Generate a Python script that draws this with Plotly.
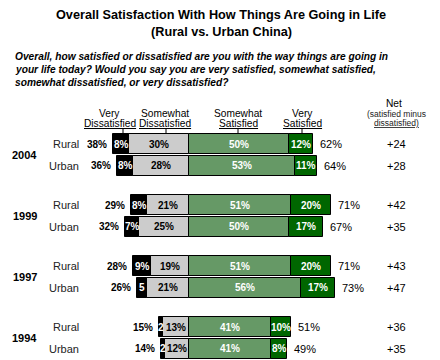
import plotly.graph_objects as go

years = ["2004", "1999", "1997", "1994"]
groups = ["Rural", "Urban"]
very_dis = [[8, 8], [8, 7], [9, 5], [2, 2]]
some_dis = [[30, 28], [21, 25], [19, 21], [13, 12]]
total_dis = [[38, 36], [29, 32], [28, 26], [15, 14]]
some_sat = [[50, 53], [51, 50], [51, 56], [41, 41]]
very_sat = [[12, 11], [20, 17], [20, 17], [10, 8]]
total_sat = [[62, 64], [71, 67], [71, 73], [51, 49]]
net = [["+24", "+28"], ["+42", "+35"], ["+43", "+47"], ["+36", "+35"]]
vd_labels = [["8%", "8%"], ["8%", "7%"], ["9%", "5"], ["2", "2"]]

W, H = 440, 360
OFF = 8  # default page body margin in the browser
X0, SCALE = 189, 2.0  # pixel of zero, pixels per percent
FONT = "Liberation Sans, Arial, sans-serif"

C_VD = "#000000"
C_SD = "#cccccc"
C_SS = "#669966"
C_VS = "#006600"


def px2v(px):
    return (px - X0) / SCALE


rows = []
ys, vd, sd, ss, vs = [], [], [], [], []
for g in range(len(years)):
    for r in range(2):
        y = 144 + 61 * g + 21.5 * r
        rows.append((g, r, y))
        ys.append(y)
        vd.append(very_dis[g][r]); sd.append(some_dis[g][r])
        ss.append(some_sat[g][r]); vs.append(very_sat[g][r])

fig = go.Figure()
common = dict(orientation="h", width=20, marker_line_color="black", marker_line_width=1,
              hoverinfo="skip", showlegend=False)
fig.add_trace(go.Bar(y=ys, x=[-v for v in sd], marker_color=C_SD, **common))
fig.add_trace(go.Bar(y=ys, x=[-v for v in vd], marker_color=C_VD, **common))
fig.add_trace(go.Bar(y=ys, x=ss, marker_color=C_SS, **common))
fig.add_trace(go.Bar(y=ys, x=vs, marker_color=C_VS, **common))

ann = []


def add(text, x, y, size=10, color="black", xanchor="center", bold=False, italic=False):
    if italic:
        text = "<i>" + text + "</i>"
    if bold:
        text = "<b>" + text + "</b>"
    ann.append(dict(text=text, x=x, y=y, xref="x", yref="y", showarrow=False,
                    font=dict(family=FONT, size=size, color=color),
                    xanchor=xanchor, yanchor="middle", align="center"))


for g, r, y in rows:
    vdv, sdv, ssv, vsv = very_dis[g][r], some_dis[g][r], some_sat[g][r], very_sat[g][r]
    add(vd_labels[g][r], -(sdv + vdv / 2), y, 10, "white", bold=True)
    add(f"{sdv}%", -sdv / 2, y, 10, "black", bold=True)
    add(f"{ssv}%", ssv / 2, y, 10, "white", bold=True)
    add(f"{vsv}%", ssv + vsv / 2, y, 10, "white", bold=True)
    add(f"{total_dis[g][r]}%", -(sdv + vdv) - 2, y, 10, "black", xanchor="right", bold=True)
    add(f"{total_sat[g][r]}%", ssv + vsv + 2.5, y, 11, "black", xanchor="left")
    add(net[g][r], px2v(396), y, 11, "black")
    add(groups[r], px2v(81), y, 11, "#222222", xanchor="right")
    if r == 0:
        add(years[g], px2v(24.5), y + 10.75, 11, "black", bold=True)

# titles
add("Overall Satisfaction With How Things Are Going in Life", px2v(221), 15, 12.7, bold=True)
add("(Rural vs. Urban China)", px2v(221), 31.5, 12.7, bold=True)
q_lines = ["Overall, how satisfied or dissatisfied are you with the way things are going in",
           "your life today? Would you say you are very satisfied, somewhat satisfied,",
           "somewhat dissatisfied, or very dissatisfied?"]
for i, line in enumerate(q_lines):
    add(line, px2v(13), 56 + 13 * i, 10.2, xanchor="left", bold=True, italic=True)

# column headers
headers = [("Very", "Dissatisfied", 109.5, 123), ("Somewhat", "Dissatisfied", 165, 166),
           ("Somewhat", "Satisfied", 238, 238), ("Very", "Satisfied", 302, 302)]
shapes = []
for top, bottom, cx, tx in headers:
    add(top, px2v(cx), 113, 10.2)
    add("<u>" + bottom + "</u>", px2v(cx), 123.5, 10.2)
    shapes.append(dict(type="line", xref="x", yref="y", x0=px2v(tx), x1=px2v(tx), y0=128, y1=134,
                       line=dict(color="black", width=1)))
add("Net", px2v(394), 103, 10.2)
add("(satisfied minus", px2v(396.5), 113.5, 8.5, "#222222")
add("<u>dissatisfied)</u>", px2v(396.5), 122.5, 8.5, "#222222")

fig.update_layout(
    width=W - OFF, height=H - OFF, margin=dict(l=0, r=0, t=0, b=0),
    paper_bgcolor="white", plot_bgcolor="white",
    barmode="relative", bargap=0,
    xaxis=dict(range=[px2v(OFF), px2v(W)], visible=False, fixedrange=True),
    yaxis=dict(range=[H, OFF], visible=False, fixedrange=True),
    annotations=ann, shapes=shapes,
)
fig.write_html("out.html")
